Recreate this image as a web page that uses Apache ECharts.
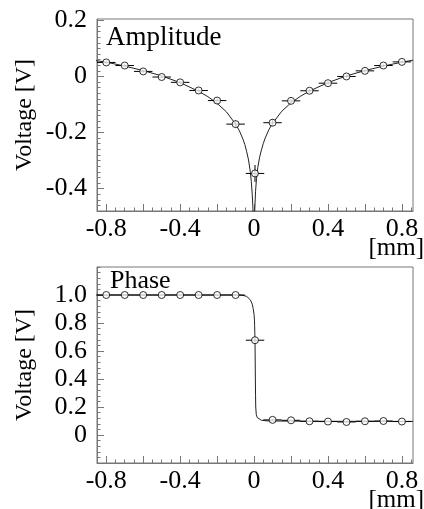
<!DOCTYPE html>
<html>
<head>
<meta charset="utf-8">
<script src="https://cdn.jsdelivr.net/npm/echarts@6/dist/echarts.min.js"></script>
<style>
html,body{margin:0;padding:0;background:#fff;}
#c{width:424px;height:509px;}
</style>
</head>
<body>
<div id="c"></div>
<script>
// ---- data ----
const ampX = [-0.8,-0.7,-0.6,-0.5,-0.4,-0.3,-0.2,-0.1,0.005,0.1,0.2,0.3,0.4,0.5,0.6,0.7,0.8];
const ampY = [0.050,0.039,0.018,-0.002,-0.021,-0.050,-0.086,-0.170,-0.346,-0.165,-0.087,-0.051,-0.024,0.000,0.020,0.039,0.052];
const ampXErr = [0.05,0.05,0.05,0.05,0.05,0.05,0.05,0.05,0.05,0.05,0.05,0.05,0.05,0.05,0.05,0.05,0.05];
const ampYErr = [0.005,0.005,0.005,0.005,0.006,0.006,0.008,0.012,0.03,0.012,0.008,0.006,0.006,0.005,0.005,0.005,0.005];

const ampFitLeftX = [-0.86,-0.8,-0.7,-0.6,-0.5,-0.4,-0.3,-0.25,-0.2,-0.15,-0.1,-0.08,-0.06,-0.05,-0.04,-0.03,-0.02,-0.015,-0.01,-0.007,-0.005,-0.004];
const ampFitLeftY = [0.057,0.051,0.037,0.021,0.002,-0.022,-0.053,-0.072,-0.096,-0.126,-0.170,-0.193,-0.224,-0.243,-0.268,-0.298,-0.342,-0.374,-0.420,-0.460,-0.490,-0.520];
const ampFitRightX = [0.002,0.003,0.005,0.008,0.013,0.02,0.03,0.04,0.05,0.06,0.08,0.1,0.15,0.2,0.25,0.3,0.4,0.5,0.6,0.7,0.8,0.86];
const ampFitRightY = [-0.52,-0.49,-0.455,-0.41,-0.365,-0.325,-0.288,-0.262,-0.239,-0.220,-0.190,-0.167,-0.124,-0.094,-0.071,-0.052,-0.022,0.002,0.021,0.037,0.051,0.058];

const phaseX = [-0.8,-0.7,-0.6,-0.5,-0.4,-0.3,-0.2,-0.1,0.005,0.1,0.2,0.3,0.4,0.5,0.6,0.7,0.8];
const phaseY = [1.0,1.0,1.0,1.0,1.0,1.0,1.0,1.0,0.677,0.108,0.105,0.098,0.096,0.093,0.098,0.100,0.096];
const phaseXErr = [0.05,0.05,0.05,0.05,0.05,0.05,0.05,0.05,0.05,0.05,0.05,0.05,0.05,0.05,0.05,0.05,0.05];
const phaseYErr = [0.004,0.004,0.004,0.004,0.004,0.004,0.004,0.004,0.01,0.004,0.004,0.004,0.004,0.004,0.004,0.004,0.004];

const phaseFitX = [-0.86,-0.08,-0.06,-0.04,-0.03,-0.02,-0.01,-0.005,0.0,0.002,0.003,0.004,0.005,0.006,0.007,0.008,0.009,0.012,0.017,0.025,0.04,0.07,0.1,0.3,0.86];
const phaseFitY = [1.0,1.0,0.997,0.99,0.98,0.965,0.935,0.905,0.86,0.82,0.78,0.73,0.67,0.55,0.40,0.28,0.20,0.145,0.125,0.112,0.105,0.101,0.100,0.098,0.097];

// tick labels
const xTickLabels = [-0.8,-0.4,0,0.4,0.8];
const ampYTickLabels = [-0.4,-0.2,0,0.2];
const phaseYTickLabels = [0,0.2,0.4,0.6,0.8,1.0];

// ---- helpers ----
function steps(a, b, s) { const out = []; const n = Math.round((b - a) / s); for (let i = 0; i <= n; i++) out.push(+(a + i * s).toFixed(4)); return out; }
function zip(xs, ys) { return xs.map((x, i) => [x, ys[i]]); }
function zip4(xs, ys, ex, ey) { return xs.map((x, i) => [x, ys[i], ex[i], ey[i]]); }

const FONT = 'Liberation Serif';
const AX = '#777';
const xMin = -0.85, xMax = 0.86;
const fmt = v => (Math.abs(v) < 1e-9 ? '0' : v.toFixed(1));

function xAxesFor(grid) {
  return [
    { type: 'value', gridIndex: grid, position: 'bottom', min: xMin, max: xMax,
      axisLine: { show: true, onZero: false, lineStyle: { color: AX, width: 1 } },
      axisTick: { show: true, inside: true, length: 7, lineStyle: { color: AX }, customValues: steps(-0.8, 0.8, 0.2) },
      axisLabel: { show: true, margin: 5, fontFamily: FONT, fontSize: 26, color: '#000', formatter: fmt, customValues: xTickLabels, hideOverlap: false },
      splitLine: { show: false } },
    { type: 'value', gridIndex: grid, position: 'bottom', min: xMin, max: xMax,
      axisLine: { show: false, onZero: false },
      axisTick: { show: true, inside: true, length: 3.5, lineStyle: { color: AX }, customValues: steps(-0.85, 0.85, 0.05) },
      axisLabel: { show: false }, splitLine: { show: false } }
  ];
}
function yAxesFor(grid, min, max, labels, minorStep, minorFrom, minorTo) {
  return [
    { type: 'value', gridIndex: grid, position: 'left', min: min, max: max,
      axisLine: { show: true, onZero: false, lineStyle: { color: AX, width: 1 } },
      axisTick: { show: true, inside: true, length: 7, lineStyle: { color: AX }, customValues: labels },
      axisLabel: { show: true, margin: 10, fontFamily: FONT, fontSize: 26, color: '#000', formatter: fmt, customValues: labels, hideOverlap: false },
      splitLine: { show: false } },
    { type: 'value', gridIndex: grid, position: 'left', min: min, max: max,
      axisLine: { show: false, onZero: false },
      axisTick: { show: true, inside: true, length: 3.5, lineStyle: { color: AX }, customValues: steps(minorFrom, minorTo, minorStep) },
      axisLabel: { show: false }, splitLine: { show: false } }
  ];
}

function errorSeries(xi, yi, data) {
  return {
    type: 'custom', xAxisIndex: xi, yAxisIndex: yi, clip: true, z: 3,
    data: data,
    renderItem: function (params, api) {
      const x = api.value(0), y = api.value(1), ex = api.value(2), ey = api.value(3);
      const l = api.coord([x - ex, y]), r = api.coord([x + ex, y]);
      const t = api.coord([x, y + ey]), b = api.coord([x, y - ey]);
      const st = { stroke: '#000', lineWidth: 1 };
      return { type: 'group', children: [
        { type: 'line', shape: { x1: l[0], y1: l[1], x2: r[0], y2: r[1] }, style: st },
        { type: 'line', shape: { x1: t[0], y1: t[1], x2: b[0], y2: b[1] }, style: st }
      ] };
    }
  };
}
function markerSeries(xi, yi, data) {
  return { type: 'scatter', xAxisIndex: xi, yAxisIndex: yi, data: data, symbol: 'circle', symbolSize: 7, z: 4,
    itemStyle: { color: '#fff', borderColor: '#000', borderWidth: 1 } };
}
function fitSeries(xi, yi, data) {
  return { type: 'line', xAxisIndex: xi, yAxisIndex: yi, data: data, showSymbol: false, symbol: 'none', clip: true, z: 2,
    lineStyle: { color: '#222', width: 1 } };
}

const option = {
  animation: false,
  backgroundColor: '#fff',
  grid: [
    { left: 97, top: 19, width: 316, height: 192, show: true, borderColor: AX, borderWidth: 1, backgroundColor: 'transparent' },
    { left: 97, top: 267, width: 316, height: 196, show: true, borderColor: AX, borderWidth: 1, backgroundColor: 'transparent' }
  ],
  xAxis: [...xAxesFor(0), ...xAxesFor(1)],
  yAxis: [
    ...yAxesFor(0, -0.48, 0.205, ampYTickLabels, 0.02, -0.46, 0.2),
    ...yAxesFor(1, -0.2, 1.2, phaseYTickLabels, 0.04, -0.2, 1.2)
  ],
  series: [
    fitSeries(0, 0, zip(ampFitLeftX, ampFitLeftY)),
    fitSeries(0, 0, zip(ampFitRightX, ampFitRightY)),
    errorSeries(0, 0, zip4(ampX, ampY, ampXErr, ampYErr)),
    markerSeries(0, 0, zip(ampX, ampY)),
    fitSeries(2, 2, zip(phaseFitX, phaseFitY)),
    errorSeries(2, 2, zip4(phaseX, phaseY, phaseXErr, phaseYErr)),
    markerSeries(2, 2, zip(phaseX, phaseY))
  ],
  graphic: [
    { type: 'text', left: 106, top: 24, style: { text: 'Amplitude', font: '27px "Liberation Serif"', fill: '#000' } },
    { type: 'text', left: 110, top: 268, style: { text: 'Phase', font: '26px "Liberation Serif"', fill: '#000' } },
    { type: 'text', x: 25, y: 115, rotation: Math.PI / 2, style: { text: 'Voltage [V]', font: '24px "Liberation Serif"', fill: '#000', align: 'center', verticalAlign: 'middle' } },
    { type: 'text', x: 25, y: 365, rotation: Math.PI / 2, style: { text: 'Voltage [V]', font: '24px "Liberation Serif"', fill: '#000', align: 'center', verticalAlign: 'middle' } },
    { type: 'text', x: 424, y: 248, style: { text: '[mm]', font: '25px "Liberation Serif"', fill: '#000', align: 'right', verticalAlign: 'middle' } },
    { type: 'text', x: 424, y: 500, style: { text: '[mm]', font: '25px "Liberation Serif"', fill: '#000', align: 'right', verticalAlign: 'middle' } }
  ]
};
const chart = echarts.init(document.getElementById('c'), null, { renderer: 'canvas' });
chart.setOption(option);
</script>
</body>
</html>
